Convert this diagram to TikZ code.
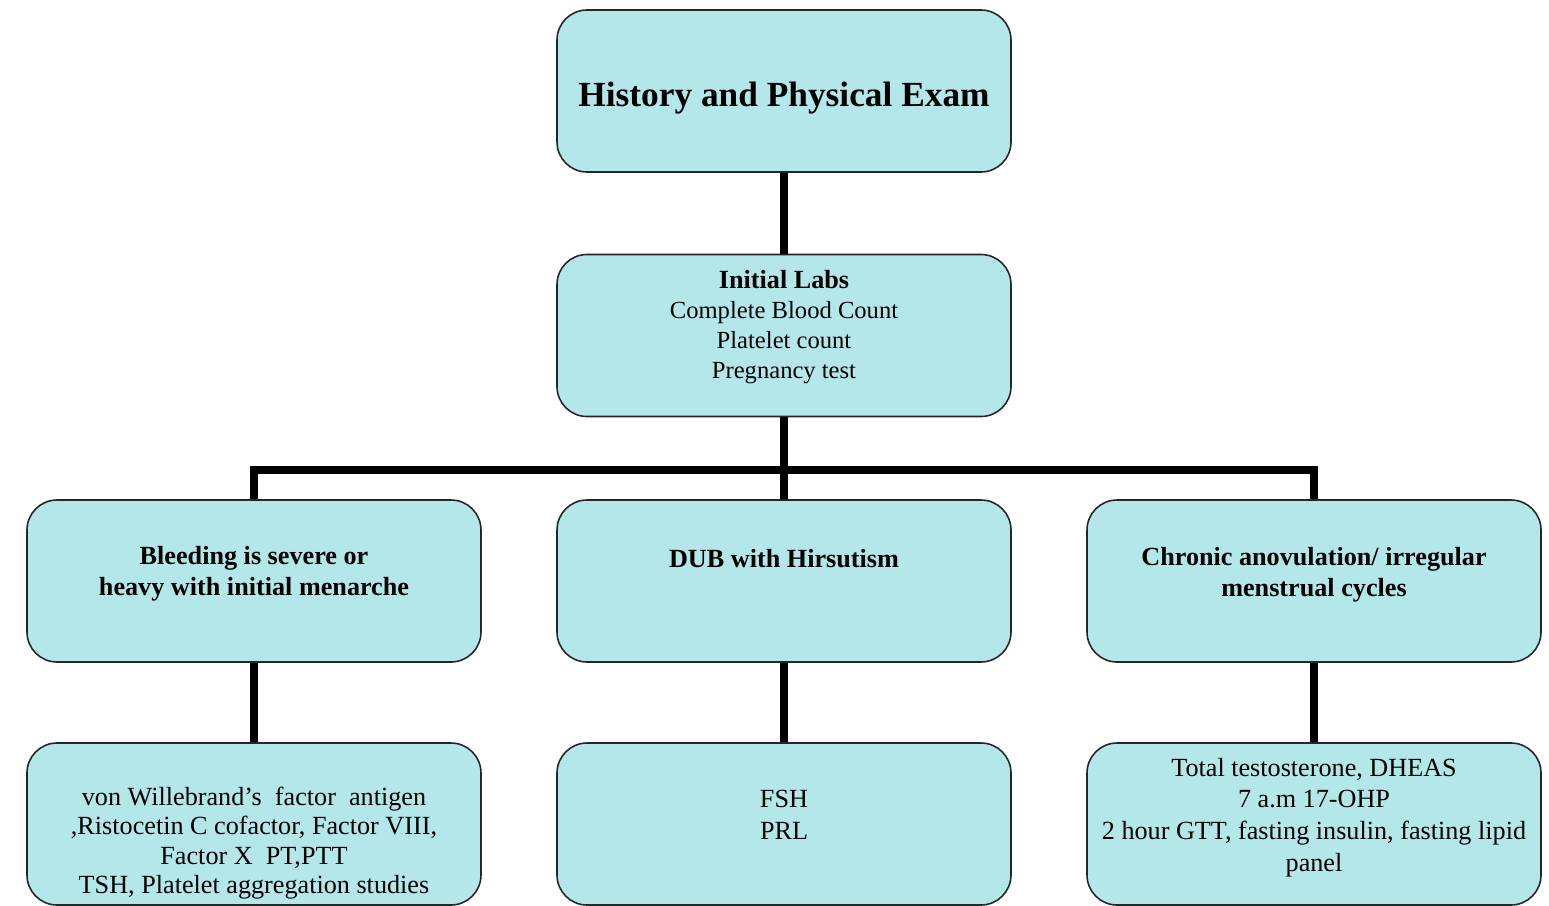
\documentclass[tikz,border=0pt]{standalone}
\usepackage{fontspec}
\setmainfont{Liberation Serif}
\usetikzlibrary{positioning}
\definecolor{boxfill}{RGB}{179,231,234}
\tikzset{
  box/.style={draw=black!85, line width=0.9pt, fill=boxfill, rounded corners=0.6cm,
    minimum width=9.08cm, minimum height=3.24cm},
  link/.style={line width=4.5pt, line join=miter},
  txt/.style={align=center, font=\fontsize{14}{17}\selectfont},
  head/.style={align=center, font=\fontsize{14.9}{17.5}\selectfont\bfseries},
}
\begin{document}
\begin{tikzpicture}
      \useasboundingbox (0,0) rectangle (30.98,-18.10);
      \node[box] (History) at (15.68,-1.82) {};
      \node[box, on grid, below=4.89cm of History] (Labs) {};
      \node[box, on grid, below=4.91cm of Labs] (Dub) {};
      \node[box, on grid, left=10.6cm of Dub] (Bleeding) {};
      \node[box, on grid, right=10.6cm of Dub] (Chronic) {};
      \node[box, on grid, below=4.86cm of Bleeding] (Factors) {};
      \node[box, on grid, below=4.86cm of Dub] (Hormones) {};
      \node[box, on grid, below=4.86cm of Chronic] (Androgens) {};

      \coordinate[below=1.06cm of Labs.south] (Bus);
      \draw[link] (History) -- (Labs);
      \draw[link] (Labs) -- (Dub);
      \draw[link] (Bleeding.north) |- (Bus) -| (Chronic.north);
      \draw[link] (Bleeding) -- (Factors);
      \draw[link] (Dub) -- (Hormones);
      \draw[link] (Chronic) -- (Androgens);

      \node[head, font=\fontsize{20.1}{24}\selectfont\bfseries] (HistoryText) at ([yshift=-0.14cm]History.center) {History and Physical Exam};
      \node[txt] (LabsText) at ([yshift=0.17cm]Labs.center) {{\fontsize{14.9}{17}\selectfont\bfseries Initial Labs}\\Complete Blood Count\\Platelet count\\Pregnancy test};
      \node[head] (BleedingText) at ([yshift=0.14cm]Bleeding.center) {Bleeding is severe or\\heavy with initial menarche};
      \node[head] (DubText) at ([yshift=0.44cm]Dub.center) {DUB with Hirsutism};
      \node[head] (ChronicText) at ([yshift=0.12cm]Chronic.center) {Chronic anovulation/ irregular\\menstrual cycles};
      \node[txt, font=\fontsize{14.9}{16.8}\selectfont] (FactorsText) at ([yshift=-0.38cm]Factors.center) {von Willebrand’s\ \ factor\ \ antigen\\,Ristocetin C cofactor, Factor VIII,\\Factor X\ \ PT,PTT\\TSH, Platelet aggregation studies};
      \node[txt, font=\fontsize{14.9}{18}\selectfont] (HormonesText) at ([yshift=0.18cm]Hormones.center) {FSH\\PRL};
      \node[txt, font=\fontsize{14.9}{18}\selectfont] (AndrogensText) at ([yshift=0.13cm]Androgens.center) {Total testosterone, DHEAS\\7 a.m 17-OHP\\2 hour GTT, fasting insulin, fasting lipid\\panel};
    \end{tikzpicture}
\end{document}
